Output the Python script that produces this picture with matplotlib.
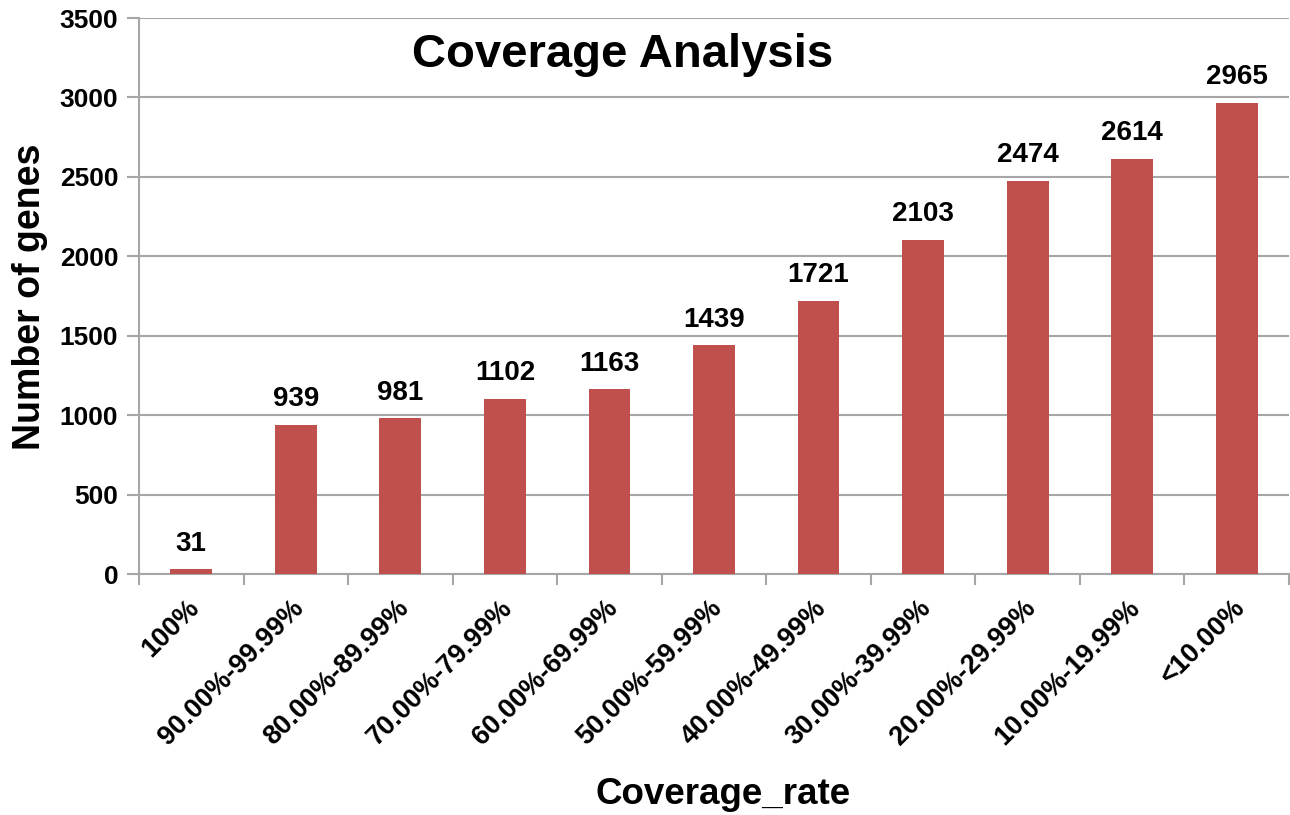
import matplotlib
matplotlib.use("Agg")
import matplotlib.pyplot as plt
import matplotlib.transforms as mtransforms
import numpy as np

categories = ["100%", "90.00%-99.99%", "80.00%-89.99%", "70.00%-79.99%",
              "60.00%-69.99%", "50.00%-59.99%", "40.00%-49.99%", "30.00%-39.99%",
              "20.00%-29.99%", "10.00%-19.99%", "<10.00%"]
values = [31, 939, 981, 1102, 1163, 1439, 1721, 2103, 2474, 2614, 2965]
yticks = [0, 500, 1000, 1500, 2000, 2500, 3000, 3500]

plt.rcParams['font.family'] = ['Liberation Sans', 'DejaVu Sans']
plt.rcParams['font.weight'] = 'bold'

W, H = 1290, 815
fig = plt.figure(figsize=(W / 100, H / 100), dpi=100)
ax = fig.add_axes([139 / W, 1 - 574 / H, (1289 - 139) / W, (574 - 18) / H])

x = np.arange(len(categories))
bars = ax.bar(x, values, width=0.4, color='#C0504D', zorder=3)

ax.set_xlim(-0.5, len(categories) - 0.5)
ax.set_ylim(0, 3500)
ax.set_yticks(yticks)
ax.set_yticklabels([str(v) for v in yticks], fontsize=19, fontweight='bold')
ax.yaxis.grid(True, color='#a6a6a6', linewidth=1.5, zorder=0)
ax.tick_params(axis='y', length=9, width=1.5, color='#a6a6a6', pad=6)

# x ticks at category boundaries
ax.set_xticks(np.arange(len(categories) + 1) - 0.5)
ax.set_xticklabels([])
ax.tick_params(axis='x', length=8, width=1.5, color='#a6a6a6')
ax.set_xticks(x, minor=True)
ax.set_xticklabels(categories, minor=True, rotation=45, ha='right', va='top',
                   rotation_mode='anchor', fontsize=19.5, fontweight='bold')
ax.tick_params(axis='x', which='minor', length=0, pad=15)
shift = mtransforms.ScaledTranslation(-5 / 100, 0, fig.dpi_scale_trans)
for lbl in ax.get_xticklabels(minor=True):
    lbl.set_transform(lbl.get_transform() + shift)

for s in ['top', 'right']:
    ax.spines[s].set_visible(False)
for s in ['left', 'bottom']:
    ax.spines[s].set_color('#a6a6a6')
    ax.spines[s].set_linewidth(1.5)

for xi, v in zip(x, values):
    ax.annotate(str(v), (xi, v), xytext=(0, 9), textcoords='offset points',
                ha='center', va='bottom', fontsize=20, fontweight='bold')

fig.text(623 / W, 1 - 55 / H, "Coverage Analysis", ha='center', va='center',
         fontsize=34, fontweight='bold')
fig.text(30 / W, 1 - 297 / H, "Number of genes", ha='center', va='center',
         rotation=90, fontsize=27, fontweight='bold')
fig.text(723 / W, 1 - 795 / H, "Coverage_rate", ha='center', va='center',
         fontsize=26.5, fontweight='bold')

fig.savefig("out.png", dpi=100)
